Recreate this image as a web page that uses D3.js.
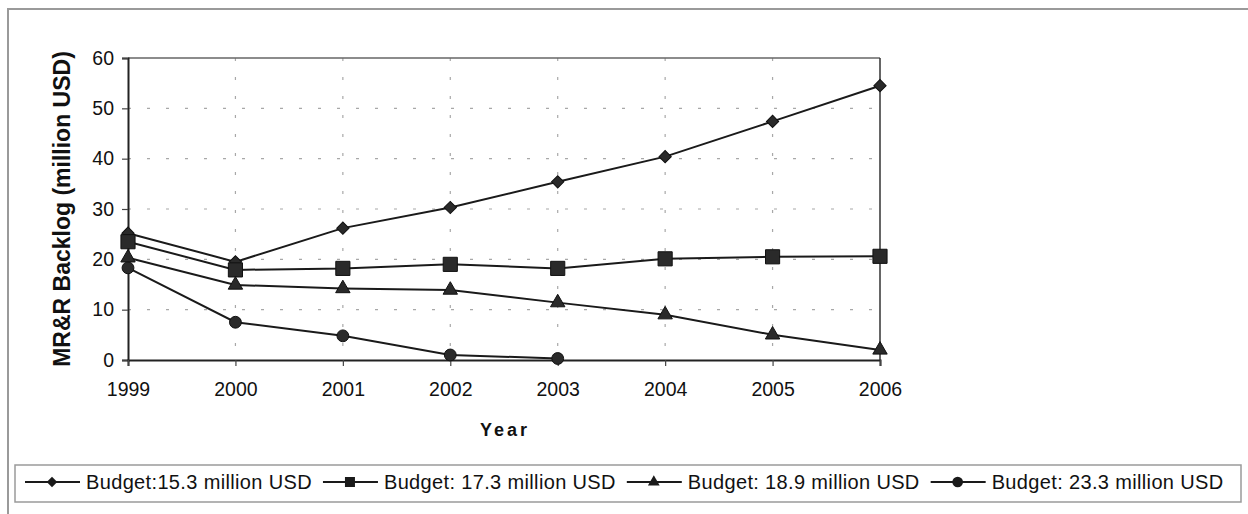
<html>
<style>
    body { margin: 0px; background: #fff; }
    text { font-family: "Liberation Sans", Arial, sans-serif; fill: #111; }
</style>
<body>
    <svg id='viz'></svg>
</body>
<script src='https://d3js.org/d3.v7.min.js'></script>
<script>
// data
var years = [1999, 2000, 2001, 2002, 2003, 2004, 2005, 2006];
var budget153 = [25.2, 19.5, 26.2, 30.3, 35.4, 40.4, 47.4, 54.5];
var budget173 = [23.5, 17.9, 18.2, 19.0, 18.2, 20.1, 20.5, 20.6];
var budget189 = [20.3, 14.9, 14.2, 13.9, 11.4, 9.0, 5.0, 2.0];
var budget233 = [18.3, 7.5, 4.8, 1.0, 0.3];
var yTicks = [0, 10, 20, 30, 40, 50, 60];
var seriesNames = ["Budget:15.3 million USD", "Budget: 17.3 million USD",
                   "Budget: 18.9 million USD", "Budget: 23.3 million USD"];

// diamond = square turned 45 degrees
var series = [
    {name: seriesNames[0], values: budget153, symbol: d3.symbolSquare, rot: 45, size: 75, lsize: 55},
    {name: seriesNames[1], values: budget173, symbol: d3.symbolSquare, rot: 0, size: 200, lsize: 100},
    {name: seriesNames[2], values: budget189, symbol: d3.symbolTriangle, rot: 0, size: 90, lsize: 60},
    {name: seriesNames[3], values: budget233, symbol: d3.symbolCircle, rot: 0, size: 110, lsize: 90}
];

var width = 1248, height = 514;
var svg = d3.select("#viz").attr("width", width).attr("height", height);

// outer frame (continues past the window on the right/bottom)
svg.append("rect")
    .attr("x", 8).attr("y", 9)
    .attr("width", width + 20).attr("height", height + 20)
    .attr("fill", "none").attr("stroke", "#9a9a9a").attr("stroke-width", 2);

var pLeft = 128, pRight = 880, pTop = 58, pBottom = 360;
var x = d3.scaleLinear().domain([1999, 2006]).range([pLeft, pRight]);
var y = d3.scaleLinear().domain([0, 60]).range([pBottom, pTop]);

// grid
var grid = svg.append("g");
grid.selectAll("line.h")
    .data(yTicks.filter(function(d) { return d > 0 && d < 60; }))
    .enter().append("line")
    .attr("x1", pLeft).attr("x2", pRight)
    .attr("y1", function(d) { return y(d); })
    .attr("y2", function(d) { return y(d); })
    .attr("stroke", "#a8a8a8").attr("stroke-width", 1.2)
    .attr("stroke-dasharray", "3,16");
grid.selectAll("line.v")
    .data(years.slice(1, -1))
    .enter().append("line")
    .attr("y1", pTop).attr("y2", pBottom)
    .attr("x1", function(d) { return x(d); })
    .attr("x2", function(d) { return x(d); })
    .attr("stroke", "#a8a8a8").attr("stroke-width", 1.2)
    .attr("stroke-dasharray", "3,16");

// plot frame
svg.append("line").attr("x1", pLeft).attr("x2", pRight).attr("y1", pTop).attr("y2", pTop)
    .attr("stroke", "#666").attr("stroke-width", 1.5);
svg.append("line").attr("x1", pRight).attr("x2", pRight).attr("y1", pTop).attr("y2", pBottom)
    .attr("stroke", "#333").attr("stroke-width", 1.5);

// axes
var yAxis = svg.append("g")
    .attr("transform", "translate(" + pLeft + ",0)")
    .call(d3.axisLeft(y).tickValues(yTicks).tickSize(6).tickPadding(8));
var xAxis = svg.append("g")
    .attr("transform", "translate(0," + pBottom + ")")
    .call(d3.axisBottom(x).tickValues(years).tickFormat(d3.format("d")).tickSize(6).tickPadding(16));

[yAxis, xAxis].forEach(function(a) {
    a.select(".domain").attr("stroke", "#222").attr("stroke-width", 2);
    a.selectAll(".tick line").attr("stroke", "#444").attr("stroke-width", 1.2);
    a.selectAll("text").style("font-size", "19.5px").attr("fill", "#111");
});

// axis titles
svg.append("text")
    .attr("transform", "translate(70," + ((pTop + pBottom) / 2) + ") rotate(-90)")
    .attr("text-anchor", "middle")
    .style("font-size", "23px").style("font-weight", "bold")
    .text("MR&R Backlog (million USD)");
svg.append("text")
    .attr("x", 505).attr("y", 436)
    .attr("text-anchor", "middle")
    .style("font-size", "18px").style("font-weight", "bold").style("letter-spacing", "3px")
    .text("Year");

// series
var line = d3.line()
    .x(function(d, i) { return x(years[i]); })
    .y(function(d) { return y(d); });

var plot = svg.append("g");
series.forEach(function(s) {
    plot.append("path")
        .attr("d", line(s.values))
        .attr("fill", "none").attr("stroke", "#1a1a1a").attr("stroke-width", 2);
    plot.selectAll(null)
        .data(s.values)
        .enter().append("path")
        .attr("d", d3.symbol().type(s.symbol).size(s.size))
        .attr("transform", function(d, i) {
            return "translate(" + x(years[i]) + "," + y(d) + ") rotate(" + s.rot + ")";
        })
        .attr("fill", "#2a2a2a").attr("stroke", "#111").attr("stroke-width", 1);
});

// legend
svg.append("rect")
    .attr("x", 15).attr("y", 465).attr("width", 1226).attr("height", 37)
    .attr("fill", "#fff").attr("stroke", "#9a9a9a").attr("stroke-width", 1.5);

var lx = 25, ly = 482;
series.forEach(function(s) {
    var g = svg.append("g");
    g.append("line").attr("x1", lx).attr("x2", lx + 55).attr("y1", ly).attr("y2", ly)
        .attr("stroke", "#1a1a1a").attr("stroke-width", 2);
    g.append("path")
        .attr("d", d3.symbol().type(s.symbol).size(s.lsize))
        .attr("transform", "translate(" + (lx + 27) + "," + ly + ") rotate(" + s.rot + ")")
        .attr("fill", "#1a1a1a");
    var t = g.append("text")
        .attr("x", lx + 61).attr("y", 489)
        .style("font-size", "20px").style("letter-spacing", "0.35px")
        .text(s.name);
    lx = lx + 61 + t.node().getComputedTextLength() + 11;
});
</script>
</html>
